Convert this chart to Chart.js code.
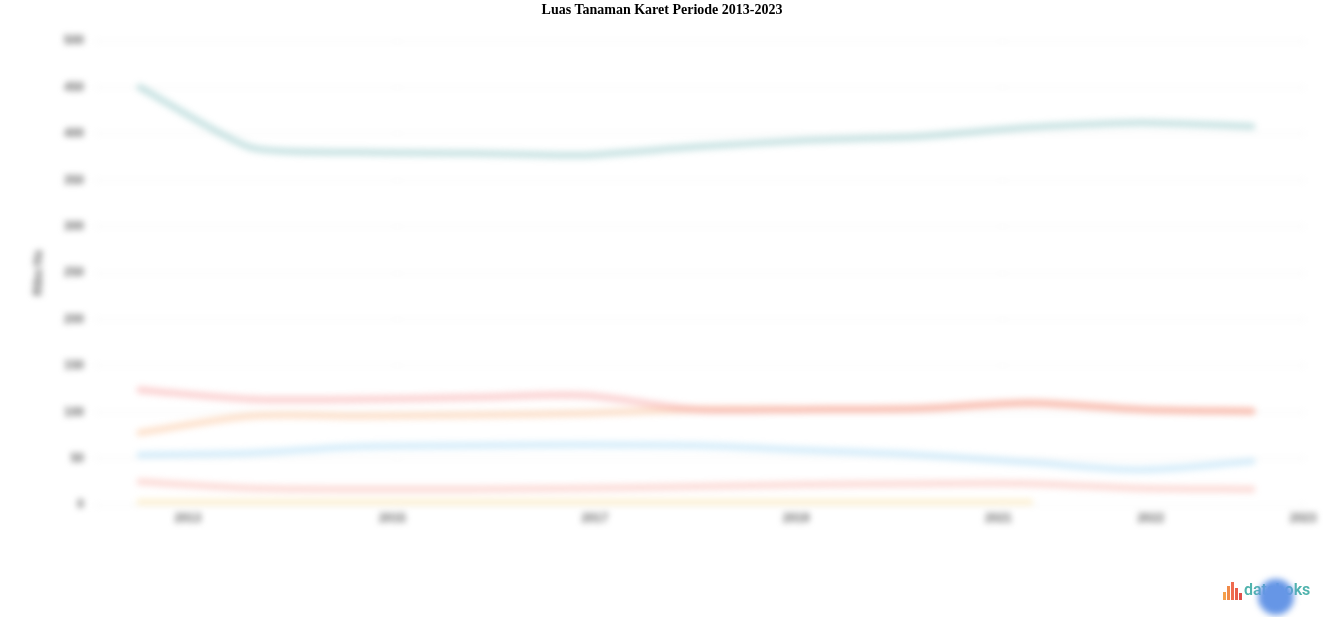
<!DOCTYPE html>
<html><head><meta charset="utf-8">
<script src="https://cdn.jsdelivr.net/npm/chart.js@4"></script>
<style>
html,body{margin:0;padding:0;background:#fff;width:1324px;height:617px;overflow:hidden}
#c{position:absolute;left:0;top:0;filter:blur(3px)}
#title{position:absolute;top:2px;left:0;width:1324px;text-align:center;font:bold 14px "Liberation Serif",serif;color:#000}
#logo{position:absolute;left:1223px;top:578px;height:22px;display:flex;align-items:flex-end}
#logo .bars{display:flex;align-items:flex-end;gap:1px;margin-right:2px;height:20px}
#logo .bars span{display:block;width:3px;background:#ef6b4f}
#logo .txt{font:600 16px Roboto,sans-serif;color:#4fb3ad;line-height:20px;letter-spacing:0}
#bubble{position:absolute;left:1258px;top:579px;width:36px;height:36px;border-radius:50%;background:#6696e6;filter:blur(3px)}
</style></head>
<body>
<canvas id="c" width="1324" height="617"></canvas>
<div id="title">Luas Tanaman Karet Periode 2013-2023</div>
<div id="logo"><div class="bars"><span style="height:8px;background:#f5a04a"></span><span style="height:14px;background:#f08a48"></span><span style="height:18px"></span><span style="height:12px;background:#e85d4a"></span><span style="height:7px;background:#e0504a"></span></div><div class="txt">databoks</div></div>
<div id="bubble"></div>
<script>
const years = [2013,2014,2015,2016,2017,2018,2019,2020,2021,2022,2023];
const seriesA = [450,385,380,379,377,386,393,397,407,412,408];
const seriesB = [124,114,114,116,118,103,103,104,110,103,101];
const seriesC = [78,96,96,97,99,103,103,104,110,103,101];
const seriesD = [54,56,63,64,65,64,59,54,46,38,47];
const seriesE = [25,18,17,17,18,20,22,23,23,18,17];
const seriesF = [3,3,3,3,3,3,3,3,3,null,null];
const xTickPos = [2013.43,2015.27,2017.09,2018.9,2020.72,2022.09,2023.46];
const xTickLabels = ['2013','2015','2017','2019','2021','2022','2023'];
const yTicks = [0,50,100,150,200,250,300,350,400,450,500];

function pts(arr){return years.map((y,i)=>({x:y,y:arr[i]}));}
function ds(label,arr,color,tension){
  return {label,data:pts(arr),borderColor:color,backgroundColor:color,borderWidth:7,
    pointRadius:0,tension:tension,fill:false,spanGaps:false,borderCapStyle:'round',borderJoinStyle:'round'};
}
new Chart(document.getElementById('c'),{
  type:'line',
  data:{datasets:[
    ds('Seri A',seriesA,'rgba(90,170,170,0.33)',0.2),
    ds('Seri B',seriesB,'rgba(245,130,130,0.36)',0.3),
    ds('Seri C',seriesC,'rgba(250,170,110,0.35)',0.3),
    ds('Seri D',seriesD,'rgba(120,195,240,0.3)',0.3),
    ds('Seri E',seriesE,'rgba(245,140,125,0.3)',0.3),
    ds('Seri F',seriesF,'rgba(250,210,120,0.32)',0.3)
  ]},
  options:{
    responsive:false,animation:false,devicePixelRatio:1,
    layout:{padding:{top:41,right:19,left:0,bottom:0}},
    plugins:{legend:{display:false},tooltip:{enabled:false},title:{display:false}},
    scales:{
      x:{type:'linear',min:2012.595,max:2023.477,
        afterBuildTicks:s=>{s.ticks=xTickPos.map(v=>({value:v}));},
        afterFit:s=>{s.height=112;},
        grid:{display:false,drawTicks:false},border:{display:false},
        ticks:{autoSkip:false,maxRotation:0,padding:6,color:'#666',font:{family:'Liberation Sans',size:12,weight:'bold'},
          callback:(v,i)=>xTickLabels[i]}},
      y:{min:0,max:500,
        afterBuildTicks:s=>{s.ticks=yTicks.map(v=>({value:v}));},
        afterFit:s=>{s.width=95;},
        grid:{color:'#efefef',drawTicks:false},border:{display:false},
        ticks:{padding:11,color:'#666',font:{family:'Liberation Sans',size:12,weight:'bold'}},
        title:{display:true,text:'Ribu Ha',color:'#666',font:{family:'Liberation Sans',size:12,weight:'bold'},padding:{top:31,bottom:0}}}
    }
  }
});
</script>
</body></html>
